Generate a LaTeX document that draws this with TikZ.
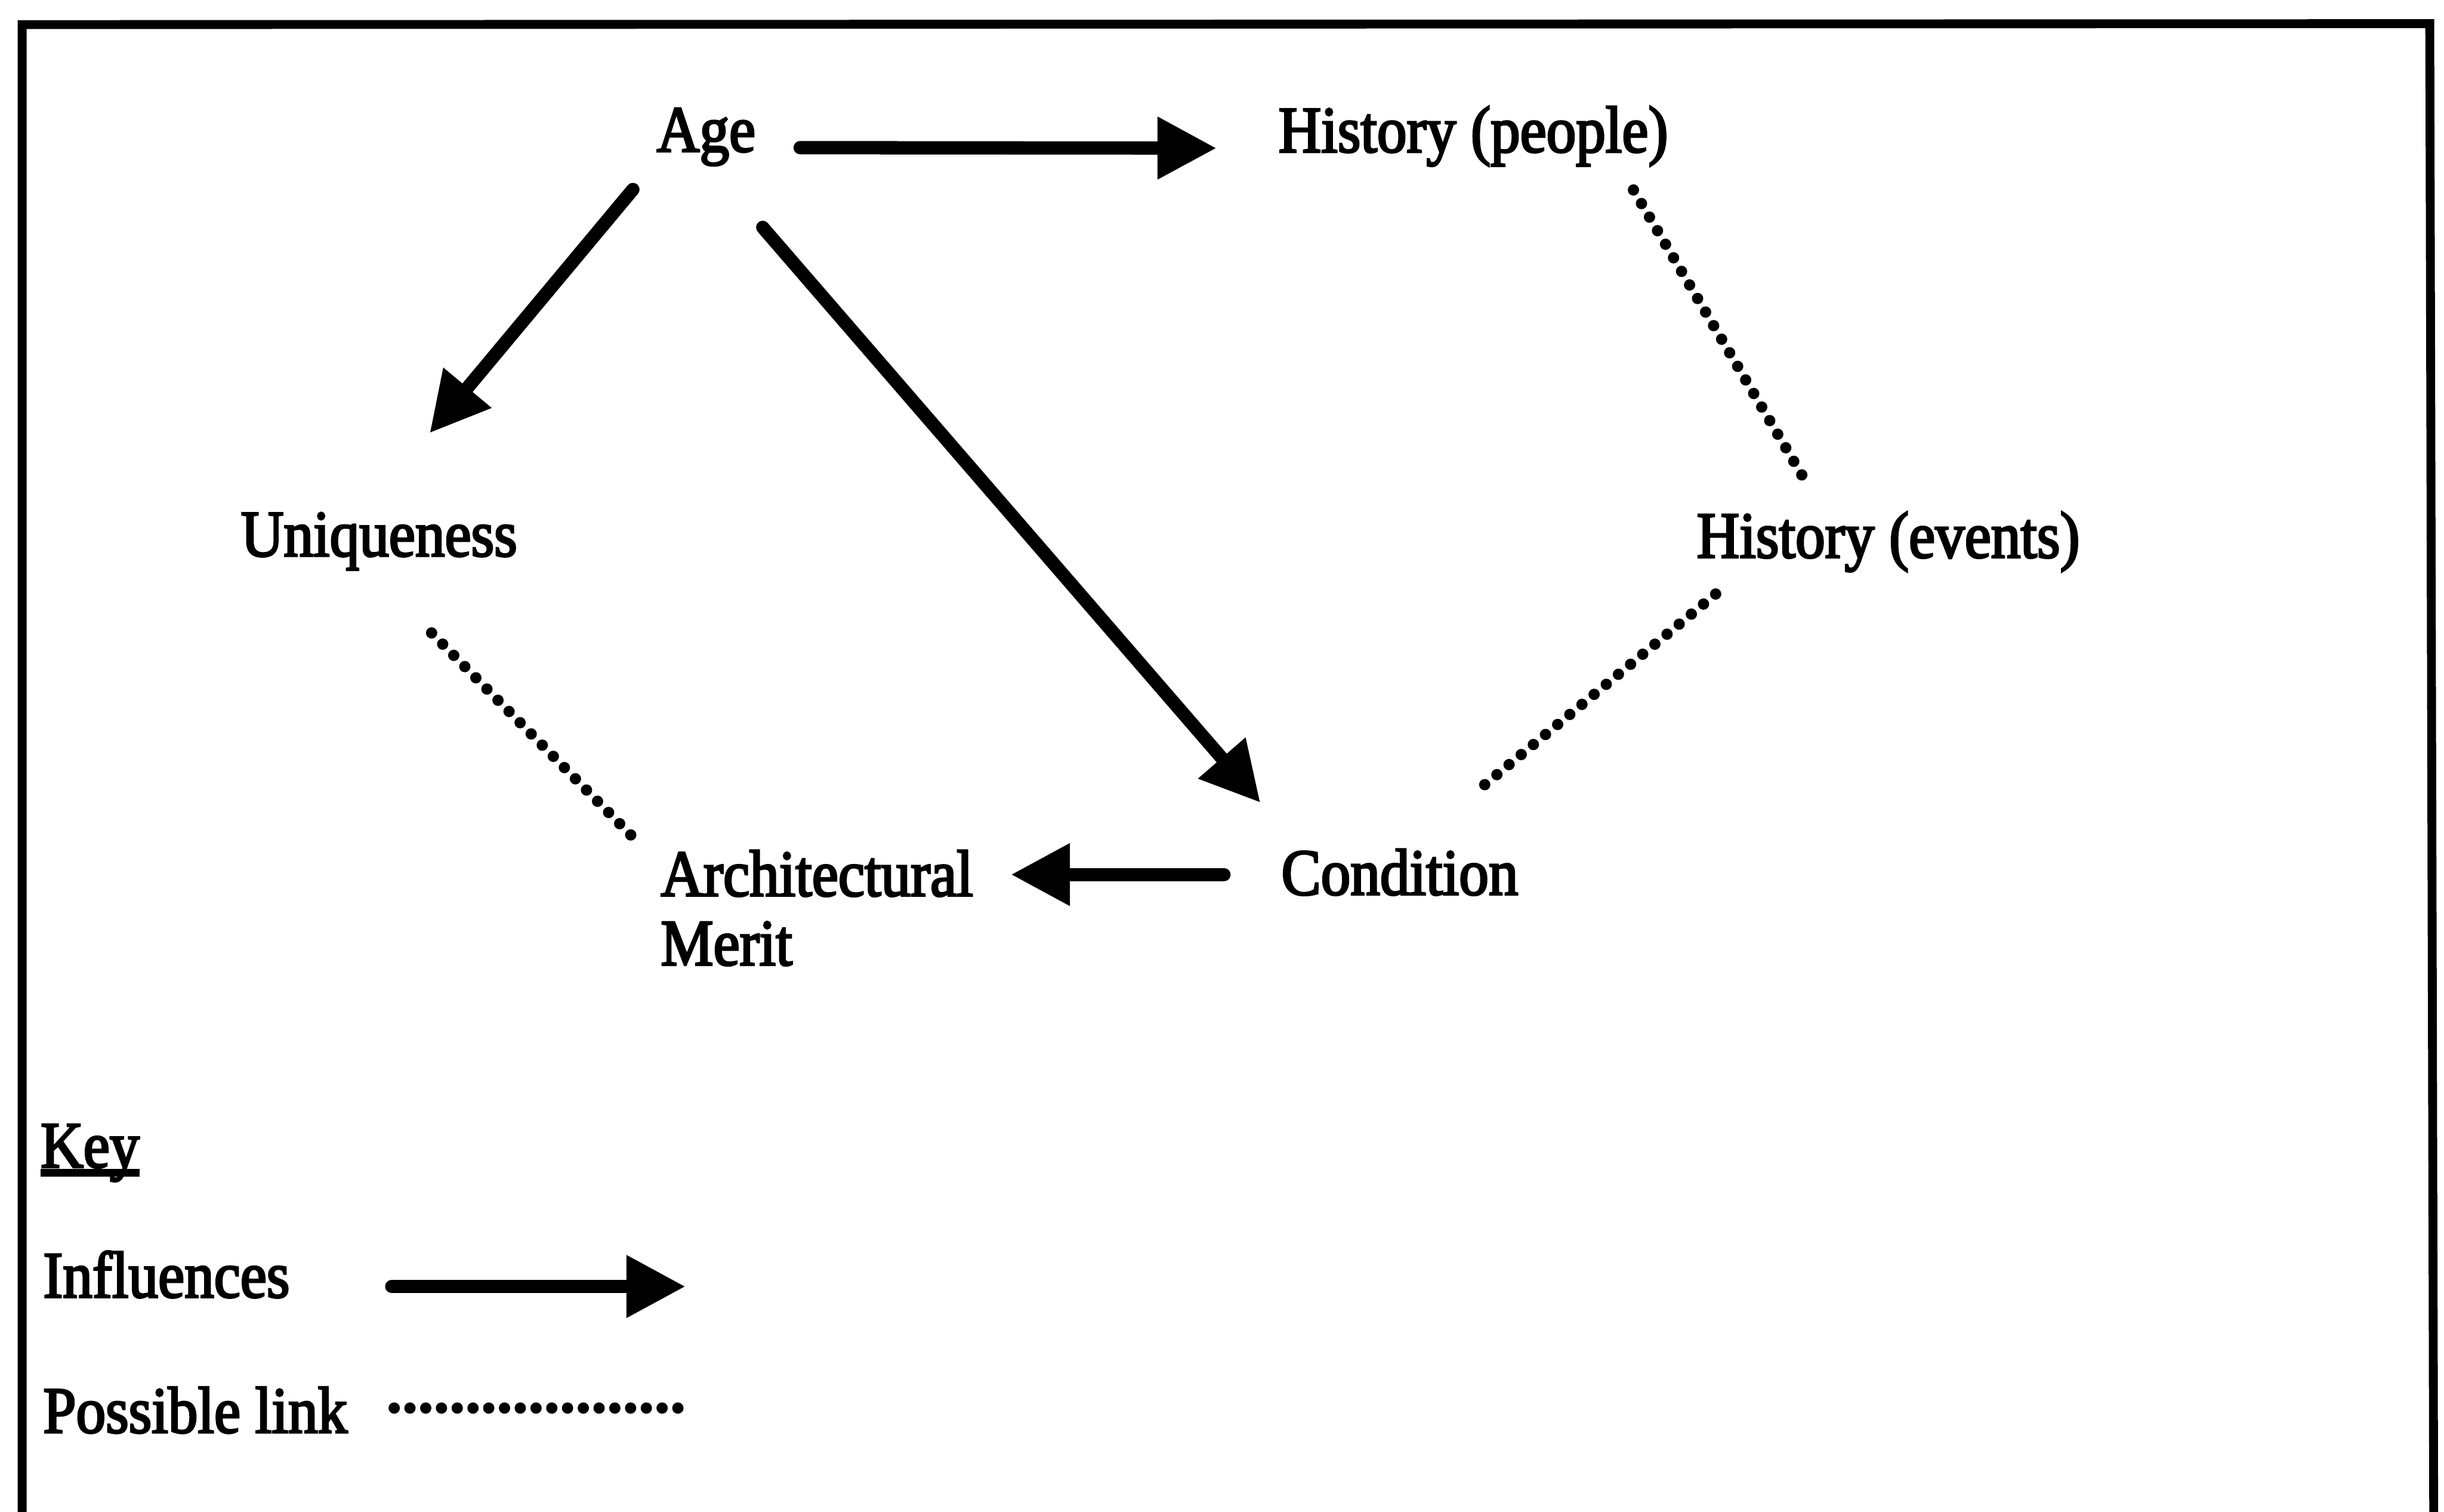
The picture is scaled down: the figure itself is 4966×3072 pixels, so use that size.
\documentclass[tikz,border=0pt]{standalone}
\usepackage{fontspec}
\setmainfont[FakeStretch=0.9,FakeBold=3]{Liberation Serif}
\usetikzlibrary{arrows.meta,calc}

\tikzset{
  term/.style={inner sep=0pt, anchor=base west},
  influence/.style={line width=0.27cm, line cap=round,
    -{Triangle[length=1.2cm,width=1.2cm]}},
  link/.style={line width=0.23cm, line cap=round, dash pattern=on 0pt off 0.32cm},
  frame/.style={line width=0.18cm, line join=miter},
}

\begin{document}
\begin{tikzpicture}[x=0.01cm, y=-0.01cm, font=\fontsize{38pt}{40pt}\selectfont]
  \useasboundingbox (0,0) rectangle (4966,3072);

  % open frame (cut off at the bottom)
  \draw[frame] (45,3072) -- (45,50) -- (4937,48) -- (4945,3072);

  % factors
  \node[term] (age)     at (1334,308)  {Age};
  \node[term] (hpeople) at (2597,309)  {History (people)};
  \node[term] (uniq)    at (489,1130)  {Uniqueness};
  \node[term] (hevents) at (3447,1133) {History (events)};
  \node[inner sep=0pt, anchor=north west, align=left] (arch) at (1342,1727)
       {Architectural\\Merit};
  \node[term] (cond)    at (2603,1818) {Condition};

  % influences
  \draw[influence] ($(age.base east)+(90,-8)$) -- ($(hpeople.base west)+(-125,-8)$);
  \draw[influence] ($(age.base west)+(-48,77)$) -- ($(uniq.base west)+(384,-250)$);
  \draw[influence] ($(age.base east)+(14,154)$) -- ($(cond.base west)+(-42,-187)$);
  \draw[influence] ($(cond.base west)+(-116,-41)$) -- ($(arch.north west)+(712,50)$);

  % possible links
  \draw[link] ($(hpeople.base west)+(722,77)$) -- ($(hevents.base west)+(220,-158)$);
  \draw[link] ($(hevents.base west)+(39,74)$) -- ($(cond.base west)+(390,-204)$);
  \draw[link] ($(uniq.base west)+(388,156)$) -- ($(arch.north west)+(-52,-22)$);

  % key
  \node[term] (key)  at (82,2372) {Key};
  \draw[line width=0.16cm] ($(key.base west)+(0,11)$) -- ($(key.base east)+(0,11)$);
  \node[term] (infl) at (87,2636) {Influences};
  \node[term] (poss) at (87,2911) {Possible link};
  \coordinate (inflA) at (796,2614);
  \coordinate (inflB) at (1393,2614);
  \coordinate (possA) at (801,2861);
  \coordinate (possB) at (1398,2861);
  \draw[influence] (inflA) -- (inflB);
  \draw[link] (possA) -- (possB);
\end{tikzpicture}
\end{document}
